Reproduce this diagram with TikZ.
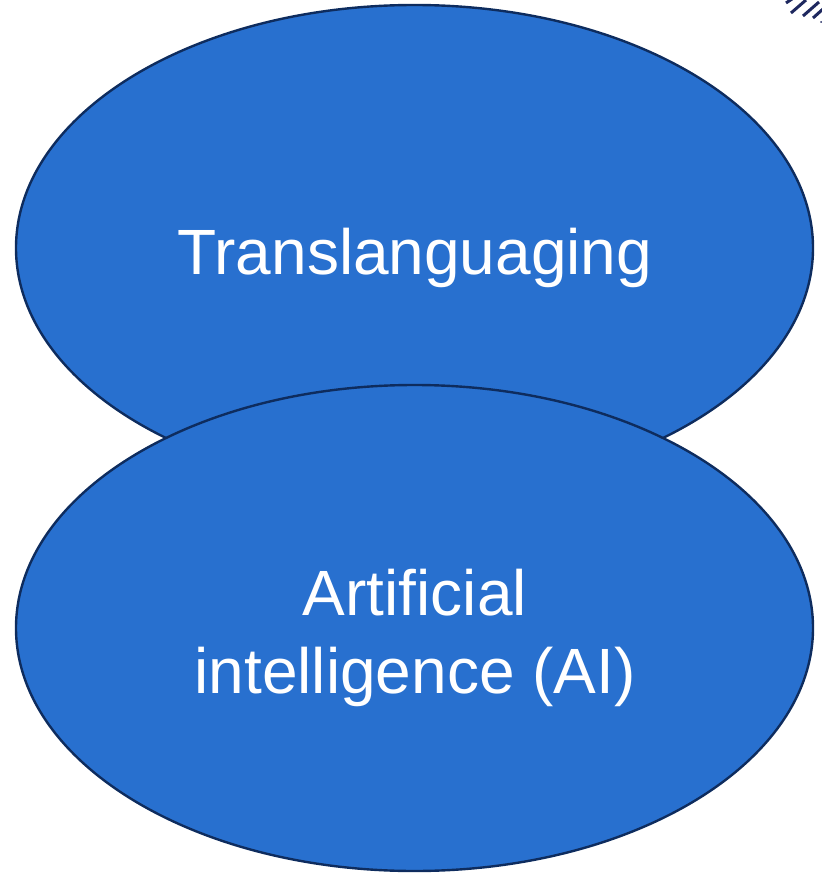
\documentclass[tikz,border=0pt]{standalone}
\usepackage{fontspec}
\setmainfont{Liberation Sans}
\usetikzlibrary{shapes.geometric}
\definecolor{blobfill}{RGB}{40,112,207}
\definecolor{blobedge}{RGB}{14,44,94}
\definecolor{hatch}{RGB}{30,40,95}
\tikzset{
  blob/.style={ellipse, draw=blobedge, fill=blobfill, line width=2.4pt,
    minimum width=797pt, minimum height=486pt, inner sep=0pt},
  label/.style={text=white, font=\fontsize{64}{78}\selectfont, anchor=base, inner sep=0pt, align=center},
  hatchline/.style={draw=hatch, line width=3pt}
}
\begin{document}
\begin{tikzpicture}[x=1pt,y=-1pt]
  \useasboundingbox (0,0) rectangle (821,874);
  % decorative hatching in the corner
  \draw[hatchline] (786,3) -- (792,-1);
  \draw[hatchline] (791,13) -- (806,0);
  \draw[hatchline] (803,16) -- (819,2);
  \draw[hatchline] (813,18) -- (823,9);
  \fill[hatch] (821,22) circle (1pt);
  % the two overlapping ellipses
  \node[blob] (trans) at (414.5,248) {};
  \node[blob] (ai) at (414.5,628) {};
  \node[label] (transtext) at (415,275) {Translanguaging};
  \node[label] (aitext1) at (415,615) {Artificial};
  \node[label] (aitext2) at (415,693) {intelligence (AI)};
\end{tikzpicture}
\end{document}
